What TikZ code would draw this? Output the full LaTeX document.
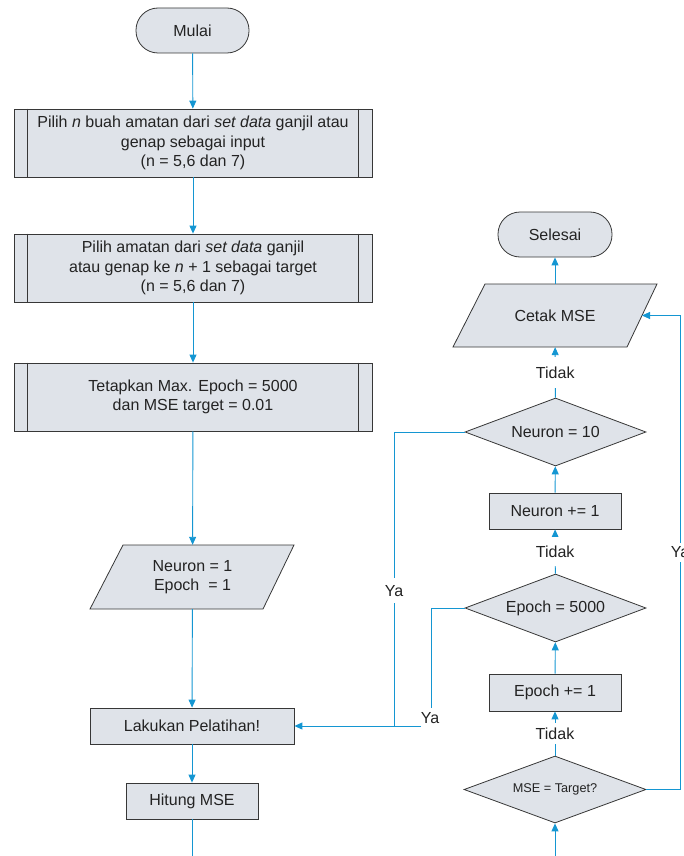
\documentclass[tikz,border=0pt]{standalone}
\usepackage{fontspec}
\setmainfont{Liberation Sans}
\usetikzlibrary{shapes.geometric,arrows.meta,calc}
\definecolor{fillc}{RGB}{223,227,233}
\definecolor{linec}{RGB}{20,150,210}
\definecolor{edgec}{RGB}{55,55,55}
\definecolor{textc}{RGB}{35,35,35}
\begin{document}
\begin{tikzpicture}[x=1pt,y=-1pt,
  font=\fontsize{16}{19.5}\selectfont,
  box/.style={draw=edgec, fill=fillc, line width=0.8pt, inner sep=0pt, align=center, text=textc},
  term/.style={box, rounded corners=22pt, minimum width=113pt, minimum height=45pt},
  proc/.style={box, minimum width=132pt, minimum height=36pt},
  predef/.style={box, minimum width=358pt, minimum height=68pt},
  dec/.style={box, diamond, aspect=2.66, minimum width=181pt, minimum height=68pt},
  para/.style={draw=edgec, fill=fillc, line width=0.8pt},
  paratext/.style={inner sep=0pt, align=center, text=textc, minimum width=140pt},
  conn/.style={draw=linec, line width=0.9pt},
  arr/.style={conn, -{Triangle[length=8pt,width=7pt]}},
  lbl/.style={fill=white, text=textc, inner xsep=2pt, inner ysep=5pt},
  lblbig/.style={lbl, inner ysep=9pt}]
\useasboundingbox (0,0) rectangle (683,856);

% ---- left column ----
\node[term] (mulai) at (192.5,30.5) {Mulai};
\node[predef] (b1) at (193,143) {Pilih \textit{n} buah amatan dari \textit{set data} ganjil atau\\genap sebagai input\\(n = 5,6 dan 7)};
\node[predef] (b2) at (193,268) {Pilih amatan dari \textit{set data} ganjil\\atau genap ke \textit{n} + 1 sebagai target\\(n = 5,6 dan 7)};
\node[predef] (b3) at (193,397) {Tetapkan Max. Epoch = 5000\\dan MSE target = 0.01};
\foreach \b in {b1,b2,b3}{
  \draw[edgec, line width=0.8pt] ($(\b.north west)+(14,0)$) -- ($(\b.south west)+(14,0)$);
  \draw[edgec, line width=0.8pt] ($(\b.north east)+(-14,0)$) -- ($(\b.south east)+(-14,0)$);
}
\draw[para] (123,545) -- (294,545) -- (263,609) -- (90,609) -- cycle;
\node[paratext, minimum height=64pt] (init) at (192.5,577) {Neuron = 1\\Epoch~~= 1};
\node[box, minimum width=204pt, minimum height=36pt] (lakukan) at (192,726) {Lakukan Pelatihan!};
\node[proc] (hitung) at (192,801) {Hitung MSE};

% ---- right column ----
\node[term, minimum width=114pt] (selesai) at (555,234.5) {Selesai};
\draw[para] (485,284) -- (657,284) -- (627,347) -- (453,347) -- cycle;
\node[paratext, minimum height=63pt] (cetak) at (555,315.5) {Cetak MSE};
\coordinate (cetakE) at (642,315.5);
\node[dec] (n10) at (555.5,432) {Neuron = 10};
\node[proc] (ninc) at (555,511) {Neuron += 1};
\node[dec] (e5000) at (555.5,608) {Epoch = 5000};
\node[proc, minimum height=37pt] (einc) at (555,692.5) {Epoch += 1};
\node[dec, minimum width=182pt, minimum height=67pt, font=\fontsize{12.7}{15}\selectfont] (mset) at (555,789.5) {MSE = Target?};

% ---- connectors left ----
\draw[arr] (mulai) -- (b1);
\draw[arr] (b1) -- (b2);
\draw[arr] (b2) -- (b3);
\draw[arr] (b3) -- (init);
\draw[arr] (init) -- (lakukan);
\draw[arr] (lakukan) -- (hitung);
\coordinate (outL) at (192,860);
\draw[conn] (hitung) -- (outL);

% ---- connectors right ----
\coordinate (inR) at (555,860);
\draw[arr] (inR) -- (mset);
\draw[arr] (mset) -- node[lbl]{Tidak} (einc);
\draw[arr] (einc) -- (e5000);
\draw[arr] (e5000) -- node[lblbig]{Tidak} (ninc);
\draw[arr] (ninc) -- (n10);
\draw[arr] (n10) -- node[lblbig, inner ysep=10pt]{Tidak} (cetak);
\draw[arr] (cetak) -- (selesai);

\coordinate (rc1) at (680,789.5);
\coordinate (rc2) at (680,315.5);
\draw[arr] (mset.east) -- (rc1) -- node[lbl, inner ysep=4pt]{Ya} (rc2) -- (cetakE);

\coordinate (lc) at (394,726);
\draw[conn] (n10.west) -| node[lbl, pos=0.77, inner ysep=7pt]{Ya} (lc);
\coordinate (yh) at (421,726);
\draw[arr] (yh) -- (lakukan.east);
\coordinate (yv) at (431,708);
\draw[conn] (e5000.west) -| (yv);
\node[text=textc, inner sep=0pt] (ya2) at (430,718) {Ya};
\end{tikzpicture}
\end{document}
